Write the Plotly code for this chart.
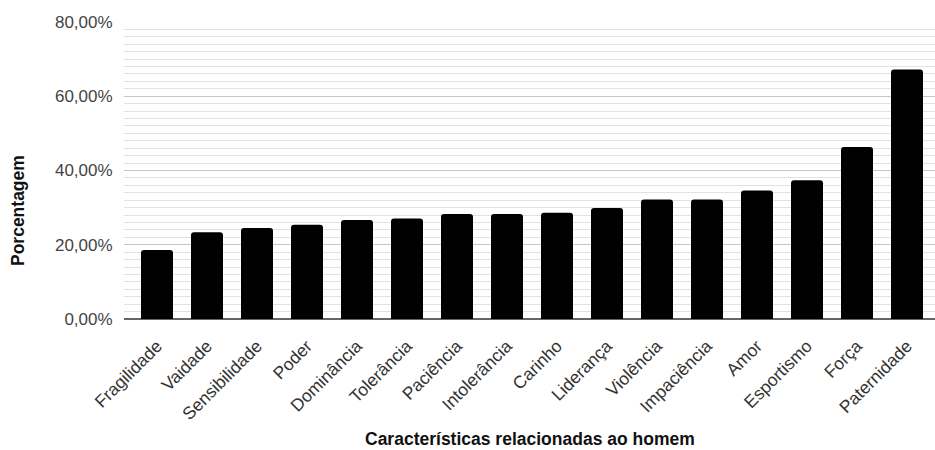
import plotly.graph_objects as go

categorias = ["Fragilidade", "Vaidade", "Sensibilidade", "Poder", "Dominância",
              "Tolerância", "Paciência", "Intolerância", "Carinho", "Liderança",
              "Violência", "Impaciência", "Amor", "Esportismo", "Força", "Paternidade"]
porcentagens = [18.6, 23.4, 24.5, 25.4, 26.7, 27.1, 28.3, 28.3, 28.6, 29.9,
                32.2, 32.2, 34.6, 37.4, 46.3, 67.2]
titulo_x = "Características relacionadas ao homem"
titulo_y = "Porcentagem"

FONT = "Liberation Sans, Arial, sans-serif"
TITLE_FONT = dict(family=FONT, size=17.5, color="#111111")

fig = go.Figure(
    go.Bar(
        x=categorias,
        y=porcentagens,
        marker=dict(color="#000000", line=dict(width=0)),
        hovertemplate="%{x}: %{y:.2f}%<extra></extra>",
    )
)

fig.update_layout(
    width=935,
    height=450,
    margin=dict(l=124, r=0, t=22, b=131),
    paper_bgcolor="white",
    plot_bgcolor="white",
    separators=",.",
    bargap=0.36,
    barcornerradius=3,
    showlegend=False,
    font=dict(family=FONT, size=17, color="#444444"),
)

fig.update_xaxes(
    range=[-0.66, 15.56],
    automargin=False,
    tickangle=-45,
    tickfont=dict(family=FONT, size=17.5, color="#333333"),
    showgrid=False,
    showline=False,
    ticks="outside",
    ticklen=9,
    tickcolor="rgba(0,0,0,0)",
)

fig.update_yaxes(
    range=[0, 80],
    automargin=False,
    dtick=20,
    tickformat=".2f",
    ticksuffix="%",
    tickfont=dict(family=FONT, size=17, color="#444444"),
    showgrid=True,
    gridcolor="#c6c6c6",
    gridwidth=1,
    minor=dict(dtick=2, showgrid=True, gridcolor="#e2e2e2", gridwidth=1),
    zeroline=True,
    zerolinecolor="#666666",
    zerolinewidth=1.5,
    ticks="outside",
    ticklen=7,
    tickcolor="rgba(0,0,0,0)",
)

# axis titles: x title sits on the bottom edge of the figure
fig.add_annotation(
    text=f"<b>{titulo_x}</b>", xref="paper", yref="paper",
    x=0.5, y=-131 / 297, xanchor="center", yanchor="bottom",
    borderpad=0, showarrow=False, font=TITLE_FONT,
)
fig.add_annotation(
    text=f"<b>{titulo_y}</b>", xref="paper", yref="paper",
    x=-0.1307, y=0.3636, xanchor="center", yanchor="middle",
    textangle=-90, showarrow=False, font=TITLE_FONT,
)

fig.write_html("out.html")
